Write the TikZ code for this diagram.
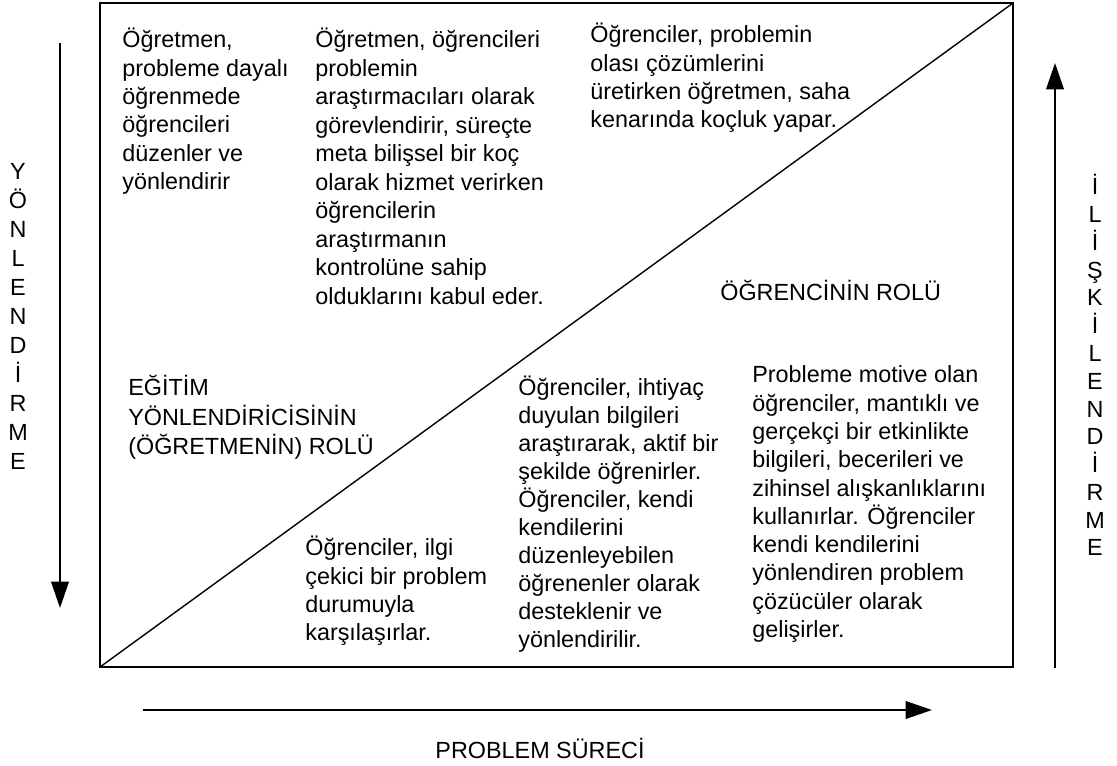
\documentclass[tikz,border=0pt]{standalone}
\usepackage{fontspec}
\setmainfont{Liberation Sans}
\usetikzlibrary{arrows.meta, positioning}
\lineskiplimit=-20pt

\begin{document}
\begin{tikzpicture}[
  x=0.02cm, y=-0.02cm,
  every node/.style={font=\fontsize{13.3pt}{16pt}\selectfont},
  roletext/.style={align=left, anchor=north west, inner sep=0pt, font=\fontsize{13.3pt}{#1}\selectfont},
  roletext/.default=16.1pt,
  vertext/.style={align=center, anchor=north, inner sep=0pt, font=\fontsize{13.3pt}{#1}\selectfont},
  frame/.style={line width=1.1pt},
  axis/.style={line width=1.1pt, -{Triangle[length=15pt, width=10pt]}},
]
\useasboundingbox (0,0) rectangle (1117,765);

%% Frame and diagonal
\coordinate (bl) at (100,667);
\coordinate (tr) at (1013,3);
\draw[frame] (bl) rectangle (tr);
\draw[line width=0.8pt] (bl) -- (tr);

%% Upper triangle: teacher
\node[roletext] (teach1) at (122,23) {\rule{0pt}{14pt}Öğretmen,\\probleme dayalı\\öğrenmede\\öğrencileri\\düzenler ve\\yönlendirir};
\node[roletext=16.2pt] (teach2) at (315,23) {\rule{0pt}{14pt}Öğretmen, öğrencileri\\problemin\\araştırmacıları olarak\\görevlendirir, süreçte\\meta bilişsel bir koç\\olarak hizmet verirken\\öğrencilerin\\araştırmanın\\kontrolüne sahip\\olduklarını kabul eder.};
\node[roletext] (teach3) at (590,18) {\rule{0pt}{14pt}Öğrenciler, problemin\\olası çözümlerini\\üretirken öğretmen, saha\\kenarında koçluk yapar.};
\node[roletext=16.7pt] (teachrole) at (128,371) {\rule{0pt}{14pt}EĞİTİM\\YÖNLENDİRİCİSİNİN\\(ÖĞRETMENİN) ROLÜ};

%% Lower triangle: student
\node[roletext] (studrole) at (720,276) {\rule{0pt}{14pt}ÖĞRENCİNİN ROLÜ};
\node[roletext] (stud1) at (305,531) {\rule{0pt}{14pt}Öğrenciler, ilgi\\çekici bir problem\\durumuyla\\karşılaşırlar.};
\node[roletext=15.9pt] (stud2) at (518,371) {\rule{0pt}{14pt}Öğrenciler, ihtiyaç\\duyulan bilgileri\\araştırarak, aktif bir\\şekilde öğrenirler.\\Öğrenciler, kendi\\kendilerini\\düzenleyebilen\\öğrenenler olarak\\desteklenir ve\\yönlendirilir.};
\node[roletext] (stud3) at (752,358) {\rule{0pt}{14pt}Probleme motive olan\\öğrenciler, mantıklı ve\\gerçekçi bir etkinlikte\\bilgileri, becerileri ve\\zihinsel alışkanlıklarını\\kullanırlar. Öğrenciler\\kendi kendilerini\\yönlendiren problem\\çözücüler olarak\\gelişirler.};

%% Axes
\coordinate (leftup) at (60,43);
\coordinate (leftdown) at (60,608);
\draw[axis] (leftup) -- (leftdown);
\node[vertext=16.5pt] (guide) at (18,155) {\rule{0pt}{14pt}Y\\Ö\\N\\L\\E\\N\\D\\İ\\R\\M\\E};

\coordinate (rightdown) at (1055,668);
\coordinate (rightup) at (1055,63);
\draw[axis] (rightdown) -- (rightup);
\node[vertext=15.8pt] (relate) at (1095,170) {\rule{0pt}{14pt}İ\\L\\İ\\Ş\\K\\İ\\L\\E\\N\\D\\İ\\R\\M\\E};

\coordinate (procstart) at (143,710);
\coordinate (procend) at (932,710);
\draw[axis] (procstart) -- (procend);
\node (process) at (540,748) {PROBLEM SÜRECİ};

\end{tikzpicture}
\end{document}
